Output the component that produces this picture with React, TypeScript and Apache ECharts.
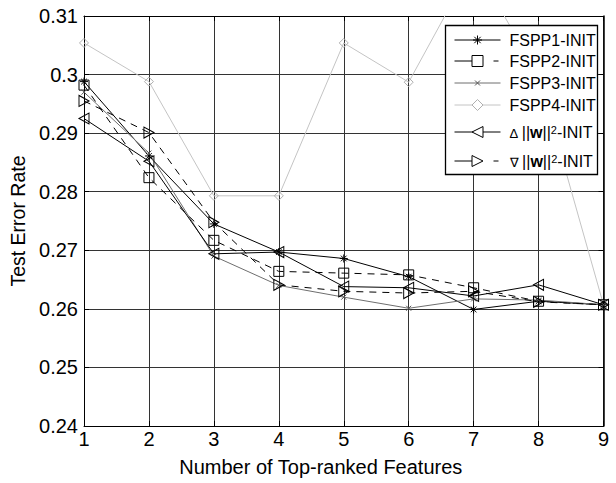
import React, { useEffect, useRef } from 'react';
import * as echarts from 'echarts';

const xValues = [1, 2, 3, 4, 5, 6, 7, 8, 9];
const fspp1 = [0.2988, 0.2861, 0.2745, 0.2697, 0.2686, 0.2655, 0.2599, 0.2613, 0.2607];
const fspp2 = [0.2982, 0.2824, 0.2717, 0.2664, 0.2661, 0.2658, 0.2636, 0.2613, 0.2607];
const fspp3 = [0.2970, 0.2866, 0.2690, 0.2640, 0.2620, 0.2601, 0.2617, 0.2615, 0.2607];
const fspp4 = [0.3054, 0.2988, 0.2793, 0.2793, 0.3054, 0.2987, 0.3190, 0.2999, 0.2607];
const deltaW = [0.2925, 0.2852, 0.2694, 0.2697, 0.2638, 0.2636, 0.2622, 0.2641, 0.2607];
const nablaW = [0.2955, 0.2901, 0.2748, 0.2641, 0.2630, 0.2627, 0.2630, 0.2612, 0.2607];

const seriesNames = ['FSPP1-INIT', 'FSPP2-INIT', 'FSPP3-INIT', 'FSPP4-INIT', 'Δ ||w||2-INIT', '∇ ||w||2-INIT'];
const xAxisTitle = 'Number of Top-ranked Features';
const yAxisTitle = 'Test Error Rate';

const FONT = 'Liberation Sans, Arial, Helvetica, sans-serif';
const STAR = 'path://M5,0L5,10M0,5L10,5M1.46,1.46L8.54,8.54M1.46,8.54L8.54,1.46';
const CROSS = 'path://M0,0L10,10M0,10L10,0';
const TRI_L = 'path://M0,5L10,0L10,10Z';
const TRI_R = 'path://M10,5L0,0L0,10Z';
const DASH = [7, 6];
const LEGEND_DASH = [27, 12, 5, 60];

type Cfg = {
  name: string;
  values: number[];
  symbol: string;
  size: number | number[];
  legendSize: number;
  line: string;
  mark: string;
  dashed: boolean;
  fill: string;
};

const cfgs: Cfg[] = [
  { name: seriesNames[0], values: fspp1, symbol: STAR, size: 8, legendSize: 9, line: '#000', mark: '#000', dashed: false, fill: '#000' },
  { name: seriesNames[1], values: fspp2, symbol: 'rect', size: 10, legendSize: 11, line: '#000', mark: '#000', dashed: true, fill: 'rgba(0,0,0,0)' },
  { name: seriesNames[2], values: fspp3, symbol: CROSS, size: 5, legendSize: 5, line: '#6e6e6e', mark: '#555', dashed: false, fill: '#555' },
  { name: seriesNames[3], values: fspp4, symbol: 'diamond', size: 9, legendSize: 11, line: '#c4c4c4', mark: '#b0b0b0', dashed: false, fill: 'rgba(0,0,0,0)' },
  { name: seriesNames[4], values: deltaW, symbol: TRI_L, size: [10, 11], legendSize: 11, line: '#000', mark: '#000', dashed: false, fill: 'rgba(0,0,0,0)' },
  { name: seriesNames[5], values: nablaW, symbol: TRI_R, size: [10, 11], legendSize: 11, line: '#000', mark: '#000', dashed: true, fill: 'rgba(0,0,0,0)' },
];

const legendCenters = [40, 61, 83, 105, 130, 159];

const richStyles = {
  n: { fontSize: 16, fontFamily: FONT, color: '#000', lineHeight: 16, padding: [5, 0, 0, 0], verticalAlign: 'bottom' },
  b: { fontSize: 16, fontFamily: FONT, color: '#000', fontWeight: 'bold', lineHeight: 16, padding: [5, 0, 0, 0], verticalAlign: 'bottom' },
  d: { fontSize: 13, fontFamily: FONT, color: '#000', lineHeight: 16, padding: [6, 0, 0, 0], verticalAlign: 'bottom' },
  s: { fontSize: 11, fontFamily: FONT, color: '#000', lineHeight: 11, verticalAlign: 'top' },
};

function legendText(name: string): string {
  if (name === seriesNames[4]) return '{d|Δ }{n|||}{b|w}{n|||}{s|2}{n|-INIT}';
  if (name === seriesNames[5]) return '{d|∇ }{n|||}{b|w}{n|||}{s|2}{n|-INIT}';
  return name;
}

function buildOption() {
  const series = cfgs.map((c) => ({
    type: 'line',
    name: c.name,
    data: xValues.map((x, i) => [x, c.values[i]]),
    symbol: c.symbol,
    symbolSize: c.size,
    showAllSymbol: true,
    lineStyle: { color: c.line, width: 1, type: c.dashed ? DASH : 'solid' },
    itemStyle: { color: c.fill, borderColor: c.mark, borderWidth: 1 },
    emphasis: { disabled: true },
    z: c.name === seriesNames[3] ? 1 : 2,
  }));

  const legends = cfgs.map((c, i) => {
    const rich = i >= 4;
    const blockH = rich ? 22 : 17;
    const ih = c.legendSize / 0.8;
    return {
      show: true,
      data: [c.name],
      orient: 'vertical',
      left: 454,
      top: legendCenters[i] - Math.max(blockH, ih) / 2,
      padding: 0,
      itemWidth: 46,
      itemHeight: ih,
      selectedMode: false,
      z: 5,
      formatter: legendText,
      textStyle: {
        fontSize: 16,
        fontFamily: FONT,
        color: '#000',
        lineHeight: 17,
        padding: [0, 0, 0, 4],
        rich: richStyles,
      },
      lineStyle: { color: c.line, width: 1, type: c.dashed ? LEGEND_DASH : 'solid' },
      itemStyle: { color: c.fill === 'rgba(0,0,0,0)' ? '#fff' : c.fill, borderColor: c.mark, borderWidth: 1 },
    };
  });

  const labelFmt = (v: number) => String(parseFloat(v.toFixed(2)));

  return {
    animation: false,
    backgroundColor: '#fff',
    textStyle: { fontFamily: FONT },
    grid: { left: 84, right: 12.5, top: 16, bottom: 57, containLabel: false },
    xAxis: [
      {
        type: 'value',
        min: 1,
        max: 9,
        interval: 1,
        name: xAxisTitle,
        nameLocation: 'middle',
        nameGap: 31,
        nameTextStyle: { fontSize: 20, color: '#000', fontFamily: FONT, padding: [0, 46, 0, 0] },
        axisLine: { show: true, lineStyle: { color: '#000', width: 1 } },
        axisTick: { show: true, inside: true, length: 5, lineStyle: { color: '#000' } },
        axisLabel: { color: '#000', fontSize: 20, margin: 3, fontFamily: FONT },
        splitLine: { show: true, lineStyle: { color: '#333', width: 1 } },
      },
      {
        type: 'value',
        position: 'top',
        min: 1,
        max: 9,
        interval: 1,
        axisLine: { show: true, lineStyle: { color: '#000', width: 1.2 } },
        axisTick: { show: true, inside: true, length: 5, lineStyle: { color: '#000' } },
        axisLabel: { show: false },
        splitLine: { show: false },
      },
    ],
    yAxis: [
      {
        type: 'value',
        min: 0.24,
        max: 0.31,
        interval: 0.01,
        name: yAxisTitle,
        nameLocation: 'middle',
        nameRotate: 90,
        nameGap: 48,
        nameTextStyle: { fontSize: 19.5, color: '#000', fontFamily: FONT },
        axisLine: { show: true, lineStyle: { color: '#000', width: 1 } },
        axisTick: { show: true, inside: true, length: 5, lineStyle: { color: '#000' } },
        axisLabel: { color: '#000', fontSize: 20, margin: 6, fontFamily: FONT, formatter: labelFmt },
        splitLine: { show: true, lineStyle: { color: '#333', width: 1 } },
      },
      {
        type: 'value',
        position: 'right',
        min: 0.24,
        max: 0.31,
        interval: 0.01,
        axisLine: { show: true, lineStyle: { color: '#000', width: 1.5 } },
        axisTick: { show: true, inside: true, length: 5, lineStyle: { color: '#000' } },
        axisLabel: { show: false },
        splitLine: { show: false },
      },
    ],
    legend: legends,
    graphic: [
      {
        type: 'rect',
        z: 4,
        shape: { x: 445.5, y: 25.5, width: 152, height: 149 },
        style: { fill: '#fff', stroke: '#000', lineWidth: 1.3 },
      },
    ],
    series,
  };
}

export default function App() {
  const ref = useRef<HTMLDivElement>(null);
  useEffect(() => {
    document.body.style.margin = '0';
    const chart = echarts.init(ref.current as HTMLDivElement, null, { renderer: 'svg' });
    chart.setOption(buildOption() as any);
    return () => chart.dispose();
  }, []);
  return <div ref={ref} style={{ width: 616, height: 483 }} />;
}
